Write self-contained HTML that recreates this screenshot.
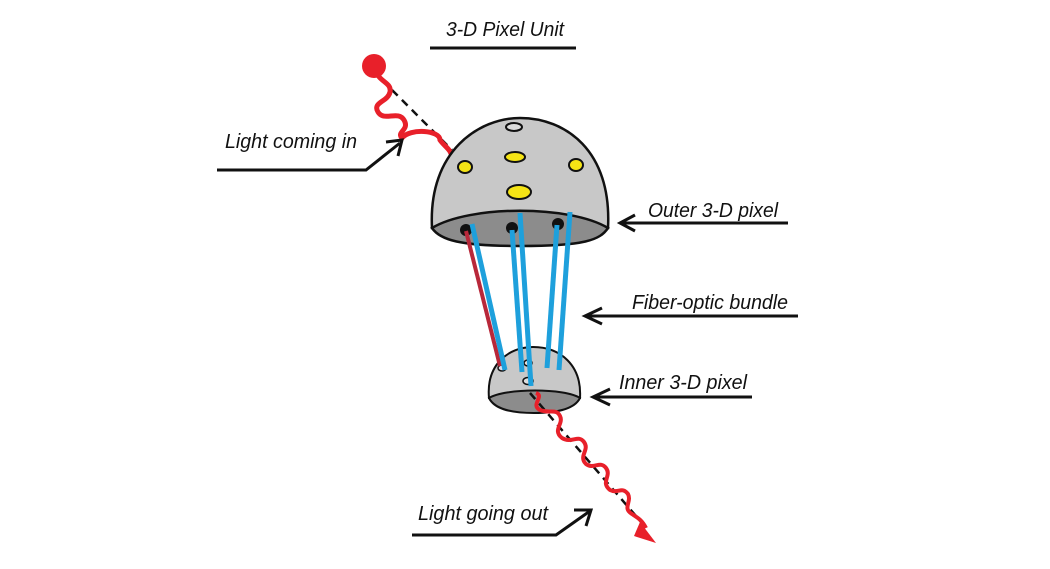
<!DOCTYPE html>
<html><head><meta charset="utf-8"><style>
html,body{margin:0;padding:0;background:#fff;}
svg text{font-family:"Liberation Sans",sans-serif;font-style:italic;font-size:20px;fill:#111;}
</style></head><body>
<svg width="1050" height="564" viewBox="0 0 1050 564" xmlns="http://www.w3.org/2000/svg">
<!-- title -->
<text x="446" y="36" textLength="118" lengthAdjust="spacingAndGlyphs">3-D Pixel Unit</text>
<line x1="430" y1="48" x2="576" y2="48" stroke="#111" stroke-width="3"/>

<!-- incoming light -->
<line x1="392" y1="90" x2="452" y2="150" stroke="#111" stroke-width="2.5" stroke-dasharray="8,6"/>
<path d="M376,70 C378,82 392,82 390,92 C388,102 372,102 378,112 C384,122 398,110 404,120 C410,130 396,132 402,138 C410,128 440,130 440,140 C444,146 452,150 452,158" fill="none" stroke="#e8202a" stroke-width="5"/>
<circle cx="374" cy="66" r="12" fill="#e8202a"/>

<!-- outer dome -->
<path d="M432,228 C428,150 480,118 520,118 C565,118 612,150 608,228 Z" fill="#c8c8c8" stroke="#111" stroke-width="2.5"/>
<path d="M432,228 C470,205 570,205 608,228 C600,240 585,246 520,246 C460,246 440,240 432,228 Z" fill="#8c8c8c" stroke="#111" stroke-width="2.5"/>
<ellipse cx="514" cy="127" rx="8" ry="4" fill="#ddd" stroke="#111" stroke-width="2"/>
<ellipse cx="465" cy="167" rx="7" ry="6" fill="#f5e415" stroke="#111" stroke-width="2"/>
<ellipse cx="515" cy="157" rx="10" ry="5" fill="#f5e415" stroke="#111" stroke-width="2"/>
<ellipse cx="576" cy="165" rx="7" ry="6" fill="#f5e415" stroke="#111" stroke-width="2"/>
<ellipse cx="519" cy="192" rx="12" ry="7" fill="#f5e415" stroke="#111" stroke-width="2"/>
<ellipse cx="466" cy="230" rx="6" ry="6" fill="#111"/>
<ellipse cx="512" cy="228" rx="6" ry="6" fill="#111"/>
<ellipse cx="558" cy="224" rx="6" ry="6" fill="#111"/>

<!-- inner dome -->
<path d="M489,398 C486,365 508,347 533,347 C560,347 582,365 580,398 Z" fill="#c8c8c8" stroke="#111" stroke-width="2"/>
<path d="M489,398 C505,388 565,388 580,398 C575,408 560,413 534,413 C508,413 494,408 489,398 Z" fill="#8c8c8c" stroke="#111" stroke-width="2"/>
<ellipse cx="502" cy="368" rx="4" ry="3" fill="#dde" stroke="#111" stroke-width="1.5"/>
<ellipse cx="528" cy="363" rx="4" ry="3" fill="#ddd" stroke="#111" stroke-width="1.5"/>
<ellipse cx="528" cy="381" rx="5" ry="3.5" fill="#ddd" stroke="#111" stroke-width="1.5"/>

<!-- fibers -->
<line x1="466" y1="231" x2="500" y2="366" stroke="#b8283a" stroke-width="4"/>
<line x1="472" y1="224" x2="505" y2="370" stroke="#1ea0dc" stroke-width="5"/>
<line x1="512" y1="230" x2="522" y2="372" stroke="#1ea0dc" stroke-width="5"/>
<line x1="520" y1="213" x2="531" y2="386" stroke="#1ea0dc" stroke-width="5"/>
<line x1="557" y1="225" x2="547" y2="368" stroke="#1ea0dc" stroke-width="5"/>
<line x1="570" y1="212" x2="559" y2="370" stroke="#1ea0dc" stroke-width="5"/>

<!-- outgoing light -->
<line x1="530" y1="393" x2="648" y2="530" stroke="#111" stroke-width="2.5" stroke-dasharray="8,6"/>
<path d="M536,393 C545,396 530,405 540,410 C550,414 556,408 560,416 C564,424 552,430 562,438 C572,444 578,434 584,442 C590,450 578,456 586,464 C594,470 600,460 606,468 C612,476 600,482 610,490 C618,494 622,486 628,494 C632,502 622,508 632,514 C638,518 642,520 646,528" fill="none" stroke="#e8202a" stroke-width="4"/>
<path d="M640,522 L656,543 L634,536 Z" fill="#e8202a"/>

<!-- labels -->
<text x="225" y="148" textLength="132" lengthAdjust="spacingAndGlyphs">Light coming in</text>
<polyline points="217,170 366,170 400,143" fill="none" stroke="#111" stroke-width="3"/>
<path d="M386,142 L402,140 L398,156" fill="none" stroke="#111" stroke-width="3"/>

<text x="648" y="217" textLength="130" lengthAdjust="spacingAndGlyphs">Outer 3-D pixel</text>
<line x1="788" y1="223" x2="620" y2="223" stroke="#111" stroke-width="3"/>
<path d="M635,215 L620,223 L635,231" fill="none" stroke="#111" stroke-width="3"/>

<text x="632" y="309" textLength="156" lengthAdjust="spacingAndGlyphs">Fiber-optic bundle</text>
<line x1="798" y1="316" x2="585" y2="316" stroke="#111" stroke-width="3"/>
<path d="M602,308 L585,316 L602,324" fill="none" stroke="#111" stroke-width="3"/>

<text x="619" y="389" textLength="128" lengthAdjust="spacingAndGlyphs">Inner 3-D pixel</text>
<line x1="752" y1="397" x2="593" y2="397" stroke="#111" stroke-width="3"/>
<path d="M610,389 L593,397 L610,405" fill="none" stroke="#111" stroke-width="3"/>

<text x="418" y="520" textLength="130" lengthAdjust="spacingAndGlyphs">Light going out</text>
<polyline points="412,535 556,535 590,511" fill="none" stroke="#111" stroke-width="3"/>
<path d="M574,510 L591,510 L586,526" fill="none" stroke="#111" stroke-width="3"/>
</svg>
</body></html>
